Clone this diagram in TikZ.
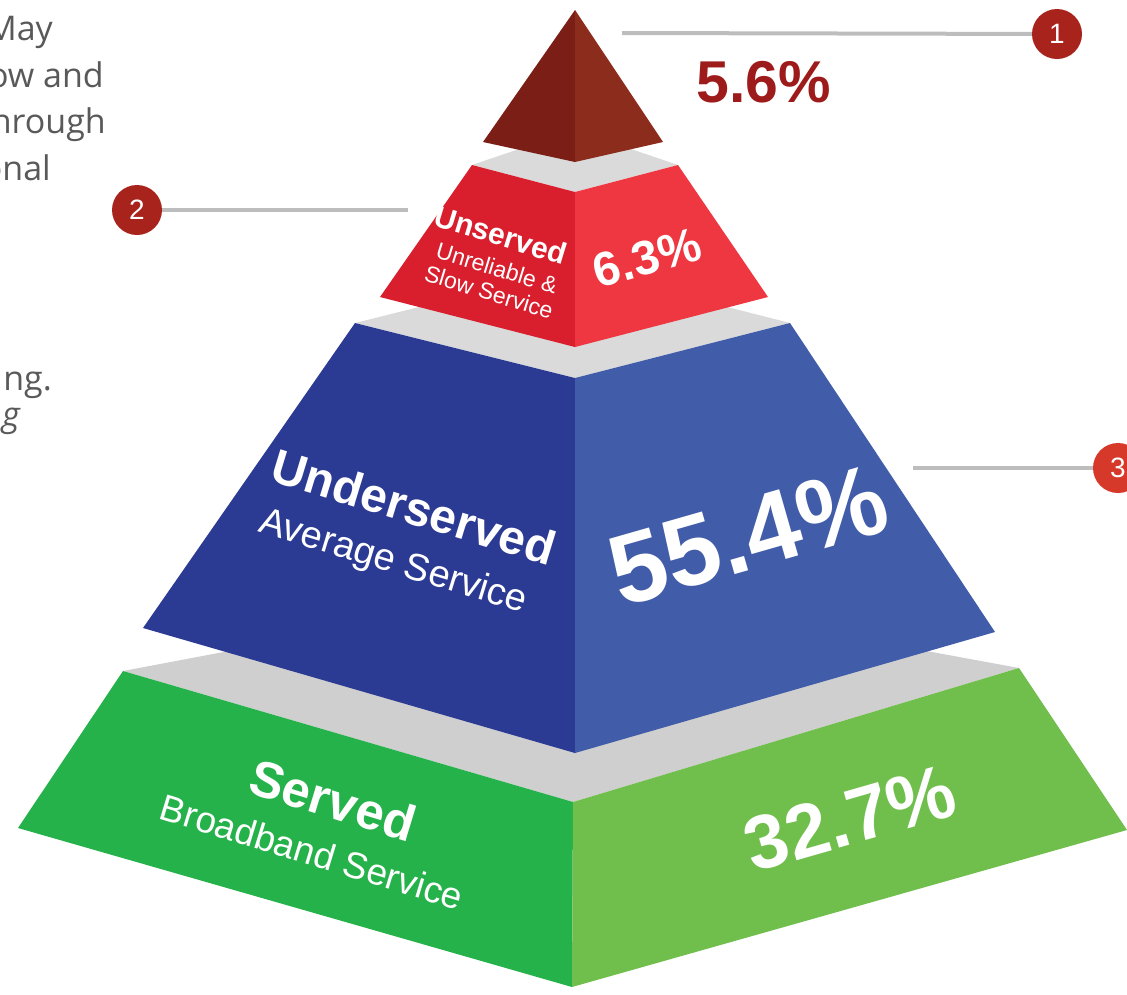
\documentclass[tikz,border=0pt]{standalone}
\usepackage{fontspec}
\setmainfont{Liberation Sans}
\newfontfamily\sidefont{Open Sans}
\newcommand{\fsz}[1]{\fontsize{#1}{#1}\selectfont}

\definecolor{tipleft}{RGB}{122,30,22}
\definecolor{tipright}{RGB}{140,44,28}
\definecolor{redleft}{RGB}{217,31,45}
\definecolor{redright}{RGB}{239,55,66}
\definecolor{blueleft}{RGB}{43,58,146}
\definecolor{blueright}{RGB}{65,92,168}
\definecolor{greenleft}{RGB}{37,178,74}
\definecolor{greenright}{RGB}{112,191,77}
\definecolor{topgray}{RGB}{218,218,218}
\definecolor{lowgray}{RGB}{207,207,207}
\definecolor{badgered}{RGB}{168,35,27}
\definecolor{badgeorange}{RGB}{214,57,42}
\definecolor{leadgray}{RGB}{189,189,189}
\definecolor{sidegray}{RGB}{89,89,89}
\definecolor{pctred}{RGB}{158,27,27}

\begin{document}
\begin{tikzpicture}[x=1pt,y=-1pt,
                    badge/.style={circle,fill=badgered,text=white,minimum size=50pt,
                                  inner sep=0pt,font=\fsz{28}},
                    leader/.style={draw=leadgray,line width=4pt},
                    lbl/.style={text=white,inner sep=0pt,rotate=-17},
                    pct/.style={text=white,inner sep=0pt,rotate=16},
                    side/.style={text=sidegray,inner sep=0pt,anchor=base east,
                                 font=\sidefont\fsz{34}}]

  \useasboundingbox (0,0) rectangle (1127,994);

  % grey tops
  \fill[lowgray] (123,671) -- (573,586) -- (1019,668) -- (573,802) -- cycle;
  \fill[topgray] (355,323) -- (575,268) -- (790,323) -- (575,378) -- cycle;
  \fill[topgray] (472,165) -- (575,130) -- (678,165) -- (575,192) -- cycle;

  % faces
  \fill[greenleft]  (123,671) -- (573,802) -- (572,987) -- (18,828) -- cycle;
  \fill[greenright] (573,802) -- (1019,668) -- (1127,830) -- (572,987) -- cycle;
  \fill[blueleft]   (355,323) -- (575,378) -- (575,753) -- (143,628) -- cycle;
  \fill[blueright]  (575,378) -- (790,323) -- (995,632) -- (575,753) -- cycle;
  \fill[redleft]    (472,165) -- (575,192) -- (575,347) -- (380,297) -- cycle;
  \fill[redright]   (575,192) -- (678,165) -- (768,297) -- (575,347) -- cycle;
  \fill[tipleft]    (575,10) -- (575,162) -- (483,142) -- cycle;
  \fill[tipright]   (575,10) -- (663,142) -- (575,162) -- cycle;

  % labels
  \node[lbl,font=\bfseries\fsz{30}] (unsTitle) at (501,235) {Unserved};
  \node[lbl,font=\fsz{23}]          (unsSubA)  at (497,268) {Unreliable \&};
  \node[lbl,font=\fsz{23}]          (unsSubB)  at (489,292) {Slow Service};
  \node[pct,font=\bfseries\fsz{48}] (unsPct)   at (647,258) {6.3\%};

  \node[lbl,font=\bfseries\fsz{48}] (undTitle) at (414,507) {Underserved};
  \node[lbl,font=\fsz{38}]          (undSub)   at (393,563) {Average Service};
  \node[pct,font=\bfseries\fsz{100}] (undPct)  at (748,535) {55.4\%};

  \node[lbl,font=\bfseries\fsz{51}] (serTitle) at (333,800) {Served};
  \node[lbl,font=\fsz{37}]          (serSub)   at (312,852) {Broadband Service};
  \node[pct,font=\bfseries\fsz{76}] (serPct)   at (850,818) {32.7\%};

  \node[text=pctred,inner sep=0pt,font=\bfseries\fsz{59}] (tipPct) at (764,82) {5.6\%};

  % badges and leaders
  \node[badge]                  (1) at (1057,34)  {1};
  \node[badge]                  (2) at (137,210)  {2};
  \node[badge,fill=badgeorange] (3) at (1118,468) {3};

  \coordinate (e1) at (622,33);
  \coordinate (e2) at (408,210);
  \coordinate (e3) at (913,468);

  \path[leader] (e1) -- (1);
  \path[leader] (2) -- (e2);
  \path[leader] (e3) -- (3);

  % clipped side text
  \node[side] (s1) at (53,40)  {May};
  \node[side] (s2) at (104,87) {ow and};
  \node[side] (s3) at (106,133) {hrough};
  \node[side] (s4) at (51,180) {onal};
  \node[side] (s5) at (52,390) {ng.};
  \node[side,font=\sidefont\itshape\fsz{34}] (s6) at (20,426) {g};

\end{tikzpicture}
\end{document}
